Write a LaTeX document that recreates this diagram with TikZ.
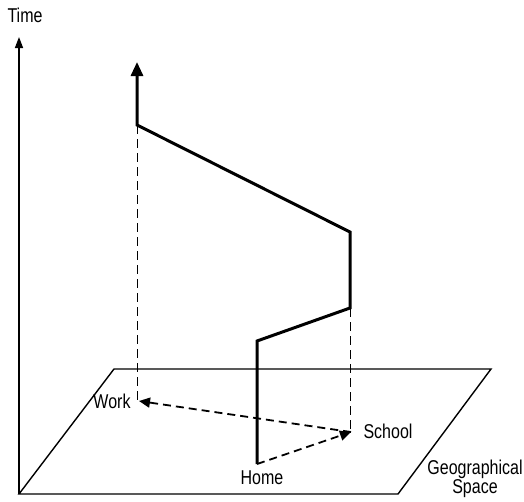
\documentclass[tikz,border=0pt]{standalone}
\usepackage{fontspec}
\setmainfont{Liberation Sans}
\newfontfamily\lblfont{Liberation Sans}[FakeStretch=0.8]
\usetikzlibrary{arrows.meta}

\begin{document}
\begin{tikzpicture}[
  x=1pt, y=-1pt,
  lbl/.style={font=\lblfont\fontsize{20}{19}\selectfont, inner sep=0pt, align=center},
  axis/.style={line width=1.4pt, -{Triangle[length=11pt, width=8pt]}},
  plane/.style={line width=1.4pt, line join=miter},
  trip/.style={line width=3pt, line join=miter, -{Triangle[length=14pt, width=12pt]}},
  proj/.style={line width=1pt, dash pattern=on 9pt off 5pt},
  move/.style={line width=1.8pt, dash pattern=on 8pt off 5pt, -{Triangle[length=11pt, width=10pt]}}
]
  \useasboundingbox (0,0) rectangle (524,501);
  % geographical plane
  \coordinate (orig) at (19,494);
  \coordinate (pbr) at (398,494);
  \coordinate (ptr) at (491,369);
  \coordinate (ptl) at (114,369);
  \draw[plane] (orig) -- (pbr) -- (ptr) -- (ptl) -- cycle;
  % time axis
  \coordinate (ttop) at (19,37);
  \draw[axis] (orig) -- (ttop);
  % places on the plane
  \coordinate (home) at (257,464);
  \coordinate (school) at (351,432);
  \coordinate (work) at (139,401);
  % space-time path
  \coordinate (h1) at (257,341);
  \coordinate (s0) at (350,308);
  \coordinate (s1) at (350,232);
  \coordinate (w0) at (137,125);
  \coordinate (tend) at (137,62);
  \draw[trip] (home) -- (h1) -- (s0) -- (s1) -- (w0) -- (tend);
  % projections
  \draw[proj] (w0) -- (137,401);
  \draw[proj] (s0) -- (350,432);
  \draw[move] (home) -- (school);
  \draw[move] (school) -- (work);
  % labels
  \node[lbl] (tlabel) at (25,15) {Time};
  \node[lbl] (wlabel) at (112,401) {Work};
  \node[lbl] (slabel) at (388,431) {School};
  \node[lbl] (hlabel) at (262,478) {Home};
  \node[lbl, anchor=north] (glabel) at (475,460) {Geographical\\Space};
\end{tikzpicture}
\end{document}
